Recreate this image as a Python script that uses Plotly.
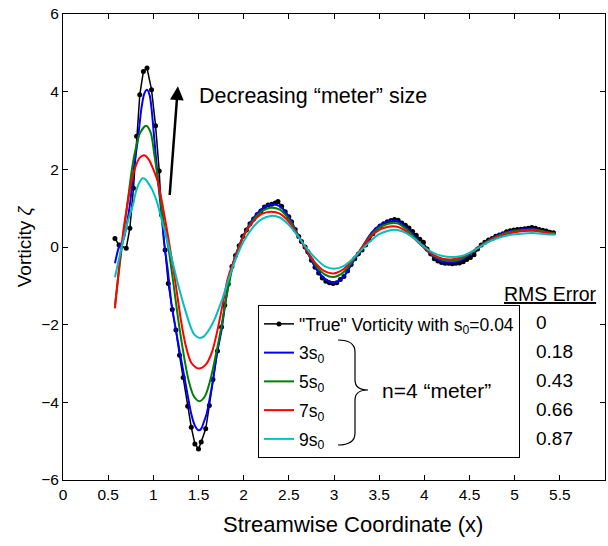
import plotly.graph_objects as go

# ---------------- data ----------------
x_true = [0.575, 0.62, 0.70, 0.74, 0.78, 0.815, 0.85, 0.89, 0.93, 0.98, 1.025, 1.065, 1.09, 1.13,
          1.165, 1.21, 1.25, 1.29, 1.33, 1.38, 1.42, 1.46, 1.50, 1.53, 1.58, 1.62, 1.66, 1.71, 1.755,
          1.79, 1.83, 1.87, 1.91, 1.95, 1.99, 2.03, 2.07, 2.11, 2.15, 2.19, 2.23, 2.27, 2.31, 2.35,
          2.38, 2.42, 2.46, 2.50, 2.53, 2.57, 2.61, 2.64, 2.68, 2.71, 2.75, 2.79, 2.83, 2.87, 2.91,
          2.95, 2.99, 3.03, 3.07, 3.11, 3.15, 3.19, 3.23, 3.27, 3.31, 3.35, 3.39, 3.43, 3.47, 3.51,
          3.55, 3.59, 3.63, 3.67, 3.71, 3.75, 3.79, 3.83, 3.87, 3.91, 3.95, 3.99, 4.03, 4.07, 4.11,
          4.15, 4.19, 4.23, 4.27, 4.31, 4.35, 4.39, 4.43, 4.47, 4.51, 4.55, 4.59, 4.63, 4.67, 4.71,
          4.75, 4.79, 4.83, 4.87, 4.91, 4.95, 4.99, 5.03, 5.07, 5.11, 5.15, 5.19, 5.23, 5.27, 5.31,
          5.35, 5.39, 5.43]
y_true = [0.22, 0.05, -0.03, 0.48, 1.51, 2.85, 3.92, 4.52, 4.61, 4.05, 3.12, 1.96, 0.83, -0.08,
          -0.94, -1.61, -2.14, -2.79, -3.36, -4.10, -4.64, -5.07, -5.20, -5.02, -4.68, -4.08, -3.41,
          -2.68, -2.06, -1.50, -0.95, -0.50, -0.22, 0.03, 0.28, 0.44, 0.60, 0.72, 0.84, 0.93, 1.03,
          1.08, 1.10, 1.13, 1.17, 1.05, 0.91, 0.78, 0.65, 0.45, 0.27, 0.14, 0.00, -0.12, -0.34,
          -0.52, -0.67, -0.80, -0.88, -0.92, -0.94, -0.92, -0.84, -0.76, -0.62, -0.45, -0.30,
          -0.18, -0.08, 0.05, 0.18, 0.34, 0.45, 0.54, 0.60, 0.65, 0.68, 0.71, 0.69, 0.62, 0.56,
          0.49, 0.40, 0.30, 0.20, 0.12, -0.05, -0.18, -0.30, -0.36, -0.40, -0.42, -0.42, -0.43,
          -0.42, -0.41, -0.38, -0.32, -0.27, -0.20, -0.05, 0.05, 0.12, 0.18, 0.22, 0.28, 0.31,
          0.34, 0.39, 0.42, 0.44, 0.45, 0.46, 0.47, 0.48, 0.50, 0.48, 0.45, 0.43, 0.41, 0.38, 0.37]

x_tail = [1.9, 2.0, 2.1, 2.2, 2.3, 2.4, 2.5, 2.6, 2.7, 2.8, 2.9, 3.0, 3.1, 3.2, 3.3, 3.4, 3.5,
          3.6, 3.7, 3.8, 3.9, 4.0, 4.1, 4.2, 4.3, 4.4, 4.5, 4.6, 4.7, 4.8, 4.9, 5.0, 5.1, 5.2,
          5.3, 5.4, 5.45]

x_3s0 = [0.575, 0.62, 0.67, 0.74, 0.78, 0.83, 0.87, 0.90, 0.93, 0.96, 1.01, 1.05, 1.09, 1.12,
         1.16, 1.20, 1.25, 1.30, 1.35, 1.42, 1.46, 1.50, 1.53, 1.56, 1.59, 1.62, 1.66, 1.70,
         1.755, 1.80, 1.85] + x_tail
y_3s0 = [-0.42, 0.0, 0.2, 1.08, 1.95, 2.8, 3.6, 3.95, 4.05, 3.9, 2.8, 1.75, 0.87, 0.1, -0.6,
         -1.45, -2.14, -2.8, -3.43, -4.3, -4.6, -4.72, -4.68, -4.5, -4.3, -3.95, -3.43, -2.8,
         -2.14, -1.4, -0.75,
         -0.28, 0.3, 0.72, 0.98, 1.1, 1.05, 0.78, 0.32, -0.12, -0.55, -0.82, -0.92, -0.78,
         -0.42, -0.05, 0.32, 0.55, 0.66, 0.67, 0.5, 0.25, -0.02, -0.25, -0.38, -0.40, -0.35,
         -0.2, 0.0, 0.16, 0.29, 0.38, 0.43, 0.46, 0.47, 0.42, 0.37, 0.35]

x_5s0 = [0.575, 0.62, 0.67, 0.72, 0.76, 0.79, 0.85, 0.92, 0.97, 1.01, 1.05, 1.10, 1.165, 1.22,
         1.29, 1.39, 1.45, 1.51, 1.57, 1.63, 1.69, 1.75, 1.80, 1.85] + x_tail
y_5s0 = [-1.5, -0.6, 0.35, 1.25, 1.95, 2.37, 2.92, 3.12, 2.95, 2.4, 1.75, 0.85, 0.0, -0.9,
         -2.1, -3.43, -3.85, -3.97, -3.85, -3.43, -2.8, -2.1, -1.4, -0.8,
         -0.3, 0.3, 0.68, 0.92, 1.01, 0.96, 0.72, 0.31, -0.1, -0.48, -0.71, -0.77, -0.66,
         -0.38, -0.05, 0.28, 0.5, 0.6, 0.61, 0.46, 0.22, -0.02, -0.22, -0.33, -0.36, -0.31,
         -0.18, 0.0, 0.15, 0.27, 0.36, 0.41, 0.44, 0.45, 0.41, 0.36, 0.35]

x_7s0 = [0.575, 0.62, 0.67, 0.71, 0.75, 0.80, 0.85, 0.90, 0.95, 1.00, 1.05, 1.10, 1.15, 1.20,
         1.25, 1.31, 1.36, 1.42, 1.50, 1.58, 1.65, 1.71, 1.77, 1.82, 1.86] + x_tail
y_7s0 = [-1.58, -0.55, 0.45, 1.05, 1.6, 2.05, 2.3, 2.36, 2.25, 2.0, 1.68, 1.1, 0.45, -0.25,
         -1.0, -1.95, -2.55, -2.98, -3.13, -3.03, -2.7, -2.14, -1.45, -0.85, -0.55,
         -0.32, 0.28, 0.64, 0.85, 0.91, 0.86, 0.65, 0.29, -0.09, -0.43, -0.63, -0.68, -0.58,
         -0.34, -0.05, 0.25, 0.44, 0.52, 0.52, 0.4, 0.19, -0.02, -0.2, -0.3, -0.32, -0.27,
         -0.16, -0.01, 0.13, 0.25, 0.33, 0.38, 0.41, 0.42, 0.39, 0.35, 0.34]

x_9s0 = [0.575, 0.62, 0.67, 0.72, 0.774, 0.81, 0.85, 0.88, 0.91, 0.95, 0.98, 1.02, 1.05, 1.09,
         1.13, 1.18, 1.23, 1.29, 1.35, 1.42, 1.46, 1.51, 1.56, 1.62, 1.68, 1.73, 1.77, 1.83] + x_tail
y_9s0 = [-0.78, -0.3, 0.2, 0.68, 1.08, 1.45, 1.68, 1.77, 1.75, 1.62, 1.51, 1.3, 1.08, 0.72,
         0.38, -0.08, -0.55, -1.11, -1.6, -2.1, -2.27, -2.34, -2.3, -2.12, -1.85, -1.55, -1.3,
         -0.85,
         -0.38, 0.15, 0.5, 0.72, 0.8, 0.76, 0.57, 0.28, -0.04, -0.3, -0.5, -0.56, -0.5, -0.32,
         -0.08, 0.15, 0.33, 0.42, 0.44, 0.36, 0.2, 0.0, -0.15, -0.23, -0.26, -0.24, -0.15,
         -0.02, 0.12, 0.22, 0.29, 0.33, 0.35, 0.36, 0.34, 0.32, 0.32]

series_names = ['"True" Vorticity with s<sub>0</sub>=0.04', '3s<sub>0</sub>', '5s<sub>0</sub>',
                '7s<sub>0</sub>', '9s<sub>0</sub>']
series_colors = ['#000000', '#0000ff', '#008000', '#ff0000', '#00bfbf']
rms_labels = ['0', '0.18', '0.43', '0.66', '0.87']
x_ticks = [0, 0.5, 1, 1.5, 2, 2.5, 3, 3.5, 4, 4.5, 5, 5.5]
x_ticktext = ['0', '0.5', '1', '1.5', '2', '2.5', '3', '3.5', '4', '4.5', '5', '5.5']
y_ticks = [-6, -4, -2, 0, 2, 4, 6]

# ---------------- layout geometry ----------------
W, H = 608, 546
L, R, T, B = 63, 3, 14, 66
PW, PH = W - L - R, H - T - B
FONT = "Liberation Sans, Arial, sans-serif"


def px(xp):
    return (xp - L) / PW


def py(yp):
    return (H - B - yp) / PH


fig = go.Figure()

fig.add_trace(go.Scatter(x=x_true, y=y_true, mode='lines+markers', name=series_names[0],
                         line=dict(color=series_colors[0], width=1.5),
                         marker=dict(color=series_colors[0], size=5),
                         legendgroup='g0'))
smoothed = [(x_3s0, y_3s0), (x_5s0, y_5s0), (x_7s0, y_7s0), (x_9s0, y_9s0)]
for i, (xs, ys) in enumerate(smoothed, start=1):
    fig.add_trace(go.Scatter(x=xs, y=ys, mode='lines', name=series_names[i],
                             line=dict(color=series_colors[i], width=2, shape='spline',
                                       smoothing=0.8),
                             legendgroup='g%d' % i))

annotations = [
    dict(x=px(197), y=py(96), xref='paper', yref='paper', xanchor='left', yanchor='middle',
         text='Decreasing \u201cmeter\u201d size', showarrow=False,
         font=dict(size=21.5, color='black', family=FONT)),
    dict(x=1.272, y=4.14, xref='x', yref='y', ax=1.18, ay=1.30, axref='x', ayref='y',
         text='', showarrow=True, arrowhead=2, arrowsize=1.1, arrowwidth=2.5,
         arrowcolor='black'),
    dict(x=px(550), y=py(294), xref='paper', yref='paper', xanchor='center', yanchor='middle',
         text='<u>RMS Error</u>', showarrow=False,
         font=dict(size=19.5, color='black', family=FONT)),
    dict(x=px(380), y=py(390), xref='paper', yref='paper', xanchor='left', yanchor='middle',
         text='n=4 \u201cmeter\u201d', showarrow=False,
         font=dict(size=21, color='black', family=FONT)),
    dict(x=px(353), y=py(524), xref='paper', yref='paper', xanchor='center', yanchor='middle',
         text='Streamwise Coordinate (x)', showarrow=False,
         font=dict(size=22, color='black', family=FONT)),
]
rms_y = [322.7, 351.7, 380, 409, 438]
for lab, yy in zip(rms_labels, rms_y):
    annotations.append(dict(x=px(534), y=py(yy), xref='paper', yref='paper', xanchor='left',
                            yanchor='middle', text=lab, showarrow=False,
                            font=dict(size=19, color='black', family=FONT)))

# curly brace next to the smoothed-series legend entries
bp = [(338, 340), (355, 340), (355, 352), (355, 380), (355, 390), (368, 390), (355, 390),
      (355, 400), (355, 433), (355, 445), (338, 445)]
P = [(px(a), py(b)) for a, b in bp]
brace = ('M {0[0]},{0[1]} Q {1[0]},{1[1]} {2[0]},{2[1]} L {3[0]},{3[1]} '
         'Q {4[0]},{4[1]} {5[0]},{5[1]} Q {6[0]},{6[1]} {7[0]},{7[1]} '
         'L {8[0]},{8[1]} Q {9[0]},{9[1]} {10[0]},{10[1]}').format(*P)

fig.update_layout(
    width=W, height=H,
    margin=dict(l=L, r=R, t=T, b=B),
    paper_bgcolor='white', plot_bgcolor='white',
    font=dict(family=FONT, size=15, color='black'),
    showlegend=True,
    legend=dict(x=px(258), y=py(305), xanchor='left', yanchor='top',
                bgcolor='rgba(0,0,0,0)', bordercolor='black', borderwidth=1,
                font=dict(size=17.5, family=FONT, color='black'),
                tracegroupgap=3, traceorder='grouped'),
    annotations=annotations,
    shapes=[dict(type='path', path=brace, xref='paper', yref='paper',
                 line=dict(color='black', width=1.2))],
    hovermode=False,
)
fig.update_xaxes(range=[0, 6], tickvals=x_ticks, ticktext=x_ticktext, ticks='inside',
                 ticklen=5, tickcolor='black', showline=True, linecolor='black', linewidth=1,
                 mirror='ticks', showgrid=False, zeroline=False,
                 tickfont=dict(size=15.5, family=FONT, color='black'))
fig.update_yaxes(range=[-6, 6], tickvals=y_ticks, ticks='inside', ticklen=5,
                 tickcolor='black', showline=True, linecolor='black', linewidth=1,
                 mirror='ticks', showgrid=False, zeroline=False,
                 tickfont=dict(size=15.5, family=FONT, color='black'),
                 title=dict(text='Vorticity <i>\u03b6</i>', standoff=4,
                            font=dict(size=19, family=FONT, color='black')))

fig.write_html("out.html")
